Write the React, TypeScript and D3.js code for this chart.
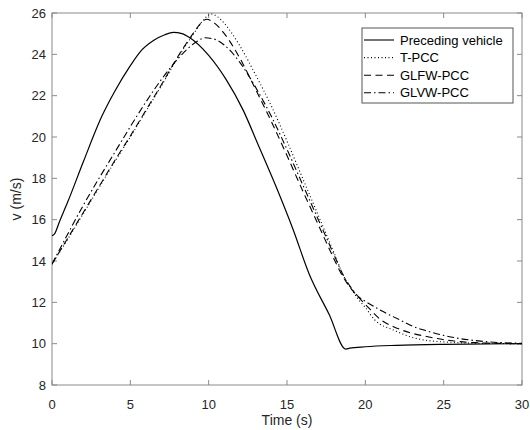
import React from "react";
import * as d3 from "d3";

const precedingT = [0, 0.15, 0.5, 1.0, 2.0, 3.18, 4.0, 5.0, 5.6, 6.5, 7.2, 7.75, 8.3, 8.8, 10.0, 11.1, 12.2, 13.2, 14.3, 15.4, 16.4, 17.7, 18.75, 19.0, 20.0, 22.0, 25.0, 30.0];
const precedingV = [15.23, 15.3, 15.95, 16.85, 18.8, 21.0, 22.2, 23.45, 24.1, 24.68, 24.95, 25.06, 25.0, 24.8, 23.95, 22.8, 21.3, 19.55, 17.6, 15.5, 13.4, 11.4, 9.74, 9.78, 9.85, 9.92, 9.97, 10.0];

const tpccT = [0, 1, 2, 3, 4, 5, 6, 7, 8, 9, 9.6, 10.15, 10.6, 11, 12, 13, 14, 15, 16, 17, 18, 18.6, 19.1, 19.5, 20, 20.6, 21.8, 23, 24, 25.4, 27, 30];
const tpccV = [13.85, 15.05, 16.3, 17.55, 18.8, 20.0, 21.25, 22.5, 23.8, 24.95, 25.6, 25.95, 25.8, 25.5, 24.4, 23.0, 21.5, 19.8, 18.0, 16.2, 14.4, 13.3, 12.65, 12.2, 11.75, 11.15, 10.66, 10.3, 10.15, 10.07, 10.02, 10.0];

const glfwT = [0, 1, 2, 3, 4, 5, 6, 7, 8, 9, 9.5, 9.87, 10.3, 11, 12, 13, 14, 15, 16, 17, 18, 18.6, 19.1, 19.5, 20, 21, 21.8, 23, 23.7, 25.4, 27, 30];
const glfwV = [13.85, 15.1, 16.35, 17.6, 18.85, 20.05, 21.3, 22.55, 23.85, 25.0, 25.5, 25.7, 25.55, 25.0, 23.8, 22.3, 20.75, 19.1, 17.4, 15.75, 14.1, 13.2, 12.65, 12.3, 11.9, 11.15, 10.82, 10.5, 10.38, 10.15, 10.05, 10.0];

const glvwT = [0, 1, 2, 3, 4, 5, 6, 7, 8, 8.7, 9.3, 9.77, 10.3, 11, 12, 13, 14, 15, 16, 17, 18, 18.6, 19.1, 19.6, 20, 21, 22.2, 23, 24, 25, 26, 27, 28, 30];
const glvwV = [13.85, 15.3, 16.7, 18.0, 19.25, 20.5, 21.7, 22.8, 23.75, 24.3, 24.65, 24.8, 24.75, 24.45, 23.6, 22.4, 21.0, 19.4, 17.7, 16.0, 14.3, 13.3, 12.7, 12.25, 12.05, 11.6, 11.15, 10.85, 10.6, 10.4, 10.25, 10.15, 10.08, 10.02];

const xTicks = [0, 5, 10, 15, 20, 25, 30];
const yTicks = [8, 10, 12, 14, 16, 18, 20, 22, 24, 26];

const seriesNames = ["Preceding vehicle", "T-PCC", "GLFW-PCC", "GLVW-PCC"];
const seriesDash = ["none", "1,2.5", "7,4.5", "7,3,1.5,3"];

export default function App() {
  const left = 52, right = 522, top = 13, bottom = 385;
  const x = d3.scaleLinear().domain([0, 30]).range([left, right]);
  const y = d3.scaleLinear().domain([8, 26]).range([bottom, top]);
  const line = d3
    .line<[number, number]>()
    .x((d) => x(d[0]))
    .y((d) => y(d[1]))
    .curve(d3.curveMonotoneX);

  const data: [number, number][][] = [
    precedingT.map((t, i) => [t, precedingV[i]]),
    tpccT.map((t, i) => [t, tpccV[i]]),
    glfwT.map((t, i) => [t, glfwV[i]]),
    glvwT.map((t, i) => [t, glvwV[i]]),
  ];

  const font = "'Liberation Sans', Arial, Helvetica, sans-serif";
  const axisColor = "#8a8a8a";
  const textColor = "#262626";
  const tl = 5;

  const lg = { x: 362, y: 28, w: 151, h: 75 };

  return (
    <svg width={530} height={430} style={{ position: "absolute", left: 0, top: 0 }} fontFamily={font}>
      <rect x={0} y={0} width={530} height={430} fill="#fff" />
      <defs>
        <clipPath id="plotclip">
          <rect x={left} y={top} width={right - left} height={bottom - top} />
        </clipPath>
      </defs>
      <rect x={left} y={top} width={right - left} height={bottom - top} fill="none" stroke={axisColor} strokeWidth={1} />
      {xTicks.map((t) => (
        <g key={"x" + t}>
          <line x1={x(t)} x2={x(t)} y1={bottom} y2={bottom - tl} stroke={axisColor} />
          <line x1={x(t)} x2={x(t)} y1={top} y2={top + tl} stroke={axisColor} />
          <text x={x(t)} y={409} textAnchor="middle" fontSize={13} fill={textColor}>
            {t}
          </text>
        </g>
      ))}
      {yTicks.map((v) => (
        <g key={"y" + v}>
          <line x1={left} x2={left + tl} y1={y(v)} y2={y(v)} stroke={axisColor} />
          <line x1={right} x2={right - tl} y1={y(v)} y2={y(v)} stroke={axisColor} />
          <text x={46} y={y(v) + 4.5} textAnchor="end" fontSize={13} fill={textColor}>
            {v}
          </text>
        </g>
      ))}
      <text x={287} y={425} textAnchor="middle" fontSize={14} fill={textColor}>
        Time (s)
      </text>
      <text
        transform={`translate(21, ${y(17)}) rotate(-90)`}
        textAnchor="middle"
        fontSize={14}
        fill={textColor}
      >
        v (m/s)
      </text>
      <g clipPath="url(#plotclip)">
        {data.map((d, i) => (
          <path
            key={i}
            d={line(d) || ""}
            fill="none"
            stroke="#000"
            strokeWidth={i === 0 ? 1.2 : 1.1}
            strokeDasharray={seriesDash[i]}
          />
        ))}
      </g>
      <rect x={lg.x} y={lg.y} width={lg.w} height={lg.h} fill="#fff" stroke="#555" strokeWidth={1} />
      {seriesNames.map((name, i) => {
        const yy = 40 + i * 17.6;
        return (
          <g key={name}>
            <line x1={364} x2={394} y1={yy} y2={yy} stroke="#000" strokeWidth={1.1} strokeDasharray={seriesDash[i]} />
            <text x={400} y={yy + 4.5} fontSize={13} fill="#000">
              {name}
            </text>
          </g>
        );
      })}
    </svg>
  );
}
